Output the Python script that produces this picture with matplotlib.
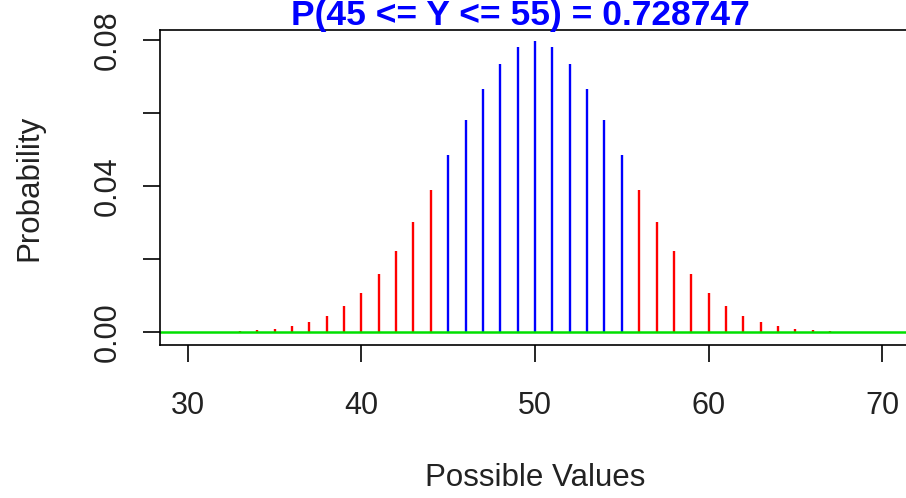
import matplotlib.pyplot as plt
import numpy as np

plt.rcParams['font.family'] = ['Liberation Sans', 'DejaVu Sans']

# possible values and their probabilities
values = np.arange(33, 68)
probs = [0.0002, 0.0005, 0.0009, 0.0016, 0.0027, 0.0045, 0.0071, 0.0108,
         0.0159, 0.0223, 0.0301, 0.0390, 0.0485, 0.0580, 0.0666, 0.0735,
         0.0780, 0.0796, 0.0780, 0.0735, 0.0666, 0.0580, 0.0485, 0.0390,
         0.0301, 0.0223, 0.0159, 0.0108, 0.0071, 0.0045, 0.0027, 0.0016,
         0.0009, 0.0005, 0.0002]
lo, hi = 45, 55
title = "P(45 <= Y <= 55) = 0.728747"
xticks = [30, 40, 50, 60, 70]
yticks = [0.0, 0.02, 0.04, 0.06, 0.08]
ylabels = ["0.00", "", "0.04", "", "0.08"]

probs = np.array(probs)
inside = (values >= lo) & (values <= hi)

fig = plt.figure(figsize=(9.06, 4.98), dpi=100)
ax = fig.add_axes([160/906, 1 - 345/498, 750/906, 315/498])

ax.vlines(values[~inside], 0, probs[~inside], color='red', lw=1.7)
ax.vlines(values[inside], 0, probs[inside], color='blue', lw=1.7)
ax.axhline(0, color='#00e000', lw=1.8)

ax.set_xlim(28.4, 71.6)
ax.set_ylim(-0.0035, 0.0827)
ax.set_xticks(xticks)
ax.set_yticks(yticks)
ax.set_yticklabels(ylabels)
for s in ax.spines.values():
    s.set_linewidth(1.2)
ax.tick_params(length=12, width=1.2, labelsize=22, colors='black',
               labelcolor='#222222')
ax.tick_params(axis='x', pad=21)
ax.tick_params(axis='y', pad=15)
for lab in ax.get_yticklabels():
    lab.set_rotation(90)
    lab.set_va('center')

ax.set_xlabel("Possible Values", fontsize=22.5, labelpad=30, color='#222222')
ax.set_ylabel("Probability", fontsize=22.5, labelpad=35, color='#222222')
fig.text(520/906, 1 - 15/498, title, color='blue', fontsize=25.5,
         fontweight='bold', ha='center', va='center')

fig.savefig("out.png", dpi=100)
